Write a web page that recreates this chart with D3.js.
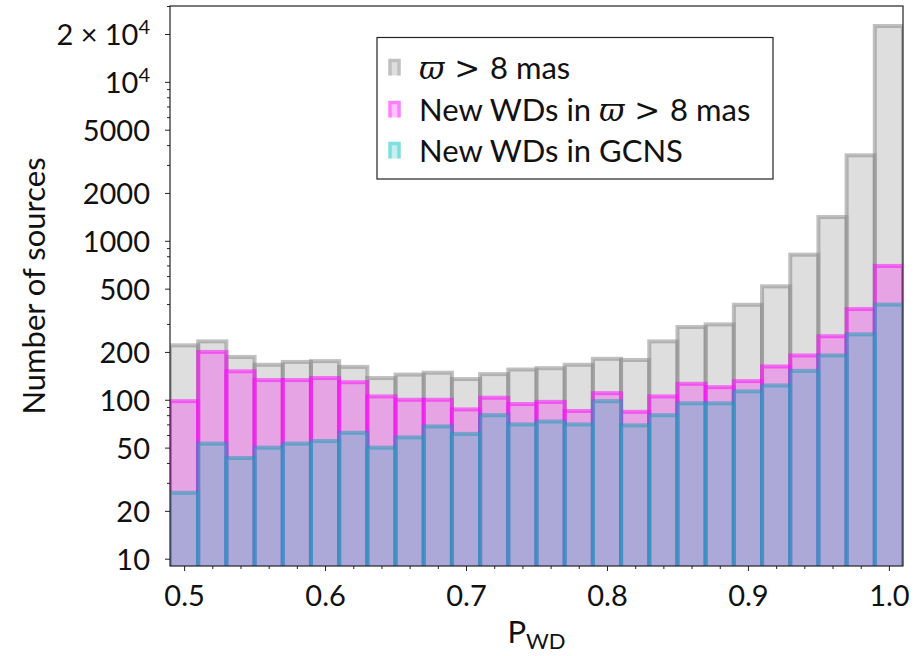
<!DOCTYPE html>
<html>
<head>
<meta charset="utf-8">
<script src="https://cdn.jsdelivr.net/npm/d3@7"></script>
<style>
  body { margin: 0; background: #fff; }
  svg { display: block; }
  text { font-family: Lato, "Open Sans", sans-serif; fill: #111; }
</style>
</head>
<body>
<svg id="chart" width="914" height="656"></svg>
<script>
// Histogram bins of P_WD (width 0.02), labelled by centre
const binCenters = [0.50, 0.52, 0.54, 0.56, 0.58, 0.60, 0.62, 0.64, 0.66, 0.68,
                    0.70, 0.72, 0.74, 0.76, 0.78, 0.80, 0.82, 0.84, 0.86, 0.88,
                    0.90, 0.92, 0.94, 0.96, 0.98, 1.00];
const binWidth = 0.02;

// Counts per bin
const allSources = [220, 233, 186, 166, 173, 175, 161, 137, 144, 148,
                    135, 145, 155, 158, 166, 181, 178, 233, 287, 298,
                    396, 517, 818, 1411, 3451, 22450];
const newWDsParallax = [98, 200, 151, 133, 133, 137, 129, 105, 100, 100,
                        87, 103, 94, 97, 85, 110, 84, 105, 126, 120,
                        131, 162, 190, 251, 372, 695];
const newWDsGCNS = [26, 53, 43, 50, 53, 55, 62, 50, 58, 68,
                    61, 80, 70, 73, 70, 98, 69, 80, 95, 95,
                    113, 123, 152, 190, 258, 397];

const xTickValues = [0.5, 0.6, 0.7, 0.8, 0.9, 1.0];
const xTickLabels = ["0.5", "0.6", "0.7", "0.8", "0.9", "1.0"];
const xMinorTicks = [0.52, 0.54, 0.56, 0.58, 0.62, 0.64, 0.66, 0.68, 0.72, 0.74, 0.76, 0.78,
                     0.82, 0.84, 0.86, 0.88, 0.92, 0.94, 0.96, 0.98];
const yTickValues = [10, 20, 50, 100, 200, 500, 1000, 2000, 5000, 10000, 20000];
const yTickLabels = ["10", "20", "50", "100", "200", "500", "1000", "2000", "5000", "10^4", "2\u2005×\u200510^4"];

const seriesStyles = [
  { values: allSources,     fill: "#bebebe", fillOpacity: 0.5, stroke: "#828282", strokeOpacity: 0.5,
    keyStroke: "#c0c0c0", keyFill: "#dedede" },
  { values: newWDsParallax, fill: "#ee6aea", fillOpacity: 0.5, stroke: "#ff00ff", strokeOpacity: 0.5,
    keyStroke: "#ff80ff", keyFill: "#ffc4ff" },
  { values: newWDsGCNS,     fill: "#72aece", fillOpacity: 0.5, stroke: "#1599b6", strokeOpacity: 0.5,
    keyStroke: "#80dede", keyFill: "#c4f0f0" }
];

const svg = d3.select("#chart");
const plot = { left: 170, right: 903, top: 6, bottom: 566 };

const x = d3.scaleLinear().domain([0.49, 1.01]).range([plot.left, plot.right]);
const y = d3.scaleLog().domain([9, 30000]).range([plot.bottom, plot.top]);

svg.append("defs").append("clipPath").attr("id", "plotClip")
  .append("rect")
  .attr("x", plot.left).attr("y", plot.top)
  .attr("width", plot.right - plot.left).attr("height", plot.bottom - plot.top);

const bars = svg.append("g").attr("clip-path", "url(#plotClip)");

seriesStyles.forEach(s => {
  bars.append("g")
    .selectAll("rect")
    .data(binCenters.map((c, i) => ({ c, v: s.values[i] })))
    .join("rect")
    .attr("x", d => x(d.c - binWidth / 2))
    .attr("width", d => x(d.c + binWidth / 2) - x(d.c - binWidth / 2))
    .attr("y", d => y(d.v))
    .attr("height", d => plot.bottom + 20 - y(d.v))
    .attr("fill", s.fill).attr("fill-opacity", s.fillOpacity)
    .attr("stroke", s.stroke).attr("stroke-opacity", s.strokeOpacity)
    .attr("stroke-width", 4);
});

// Frame
svg.append("rect")
  .attr("x", plot.left).attr("y", plot.top)
  .attr("width", plot.right - plot.left).attr("height", plot.bottom - plot.top)
  .attr("fill", "none").attr("stroke", "#222").attr("stroke-width", 1.2);

// X axis
const xAxis = d3.axisBottom(x).tickValues(xTickValues)
  .tickFormat((d, i) => xTickLabels[i]).tickSize(5).tickPadding(14);
const gx = svg.append("g").attr("transform", `translate(0,${plot.bottom})`).call(xAxis);
gx.select(".domain").remove();
gx.selectAll(".tick line").attr("stroke", "#222");
gx.selectAll(".tick text").style("font-size", "29px").attr("fill", "#111");

const xMinor = d3.axisBottom(x).tickValues(xMinorTicks).tickFormat("").tickSize(3);
const gxm = svg.append("g").attr("transform", `translate(0,${plot.bottom})`).call(xMinor);
gxm.select(".domain").remove();
gxm.selectAll(".tick line").attr("stroke", "#222");

// Y axis
const yAxis = d3.axisLeft(y).tickValues(yTickValues).tickFormat("").tickSize(5);
const gy = svg.append("g").attr("transform", `translate(${plot.left},0)`).call(yAxis);
gy.select(".domain").remove();
gy.selectAll(".tick line").attr("stroke", "#222");
gy.selectAll(".tick").each(function(d, i) {
  const label = yTickLabels[i];
  const t = d3.select(this).append("text")
    .attr("x", -20).attr("dy", "0.36em")
    .attr("text-anchor", "end").style("font-size", "29px").attr("fill", "#111");
  if (label.includes("^")) {
    const [base, exp] = label.split("^");
    t.append("tspan").text(base);
    t.append("tspan").text(exp).attr("dy", "-0.55em").style("font-size", "20px");
  } else {
    t.text(label);
  }
});

const yMinorValues = [];
[10, 100, 1000, 10000].forEach(dec => {
  for (let k = 2; k <= 9; k++) {
    const v = dec * k;
    if (v <= 30000 && !yTickValues.includes(v)) yMinorValues.push(v);
  }
});
const yMinor = d3.axisLeft(y).tickValues(yMinorValues).tickFormat("").tickSize(3);
const gym = svg.append("g").attr("transform", `translate(${plot.left},0)`).call(yMinor);
gym.select(".domain").remove();
gym.selectAll(".tick line").attr("stroke", "#222");

// Axis labels
svg.append("text")
  .attr("transform", `translate(34,${(plot.top + plot.bottom) / 2}) rotate(-90)`)
  .attr("text-anchor", "middle").attr("dy", "0.35em")
  .style("font-size", "31px").text("Number of sources");

const xl = svg.append("text")
  .attr("x", (plot.left + plot.right) / 2).attr("y", 643)
  .attr("text-anchor", "middle").style("font-size", "31px");
xl.append("tspan").text("P");
xl.append("tspan").text("WD").attr("dy", "0.25em").style("font-size", "22px");

// Legend
const legend = svg.append("g");
legend.append("rect")
  .attr("x", 377).attr("y", 37.5).attr("width", 396).attr("height", 141.5)
  .attr("fill", "#fff").attr("stroke", "#222").attr("stroke-width", 1.2);

const legendRows = [
  { style: seriesStyles[0], cy: 68, parts: [["ϖ", "math"], [" > ", "rel"], ["8 mas", "txt"]] },
  { style: seriesStyles[1], cy: 110, parts: [["New WDs in ", "txt"], ["ϖ", "math"], [" > ", "rel"], ["8 mas", "txt"]] },
  { style: seriesStyles[2], cy: 151, parts: [["New WDs in GCNS", "txt"]] }
];

legendRows.forEach(r => {
  const hx = 390, hw = 9, hh = 15, hy = r.cy - hh / 2;
  legend.append("rect").attr("x", hx).attr("y", hy).attr("width", hw).attr("height", hh)
    .attr("fill", r.style.keyFill);
  legend.append("path")
    .attr("d", `M${hx},${hy + hh} L${hx},${hy} L${hx + hw},${hy} L${hx + hw},${hy + hh}`)
    .attr("fill", "none").attr("stroke", r.style.keyStroke)
    .attr("stroke-width", 3.5);
  const t = legend.append("text").attr("x", 419).attr("y", r.cy).attr("dy", "0.36em")
    .style("font-size", "31px");
  r.parts.forEach(([s, kind]) => {
    const ts = t.append("tspan").text(s);
    if (kind === "math") ts.style("font-family", "'DejaVu Serif', serif").style("font-style", "italic");
    if (kind === "rel") ts.style("font-family", "'DejaVu Serif', serif");
  });
});
</script>
</body>
</html>
